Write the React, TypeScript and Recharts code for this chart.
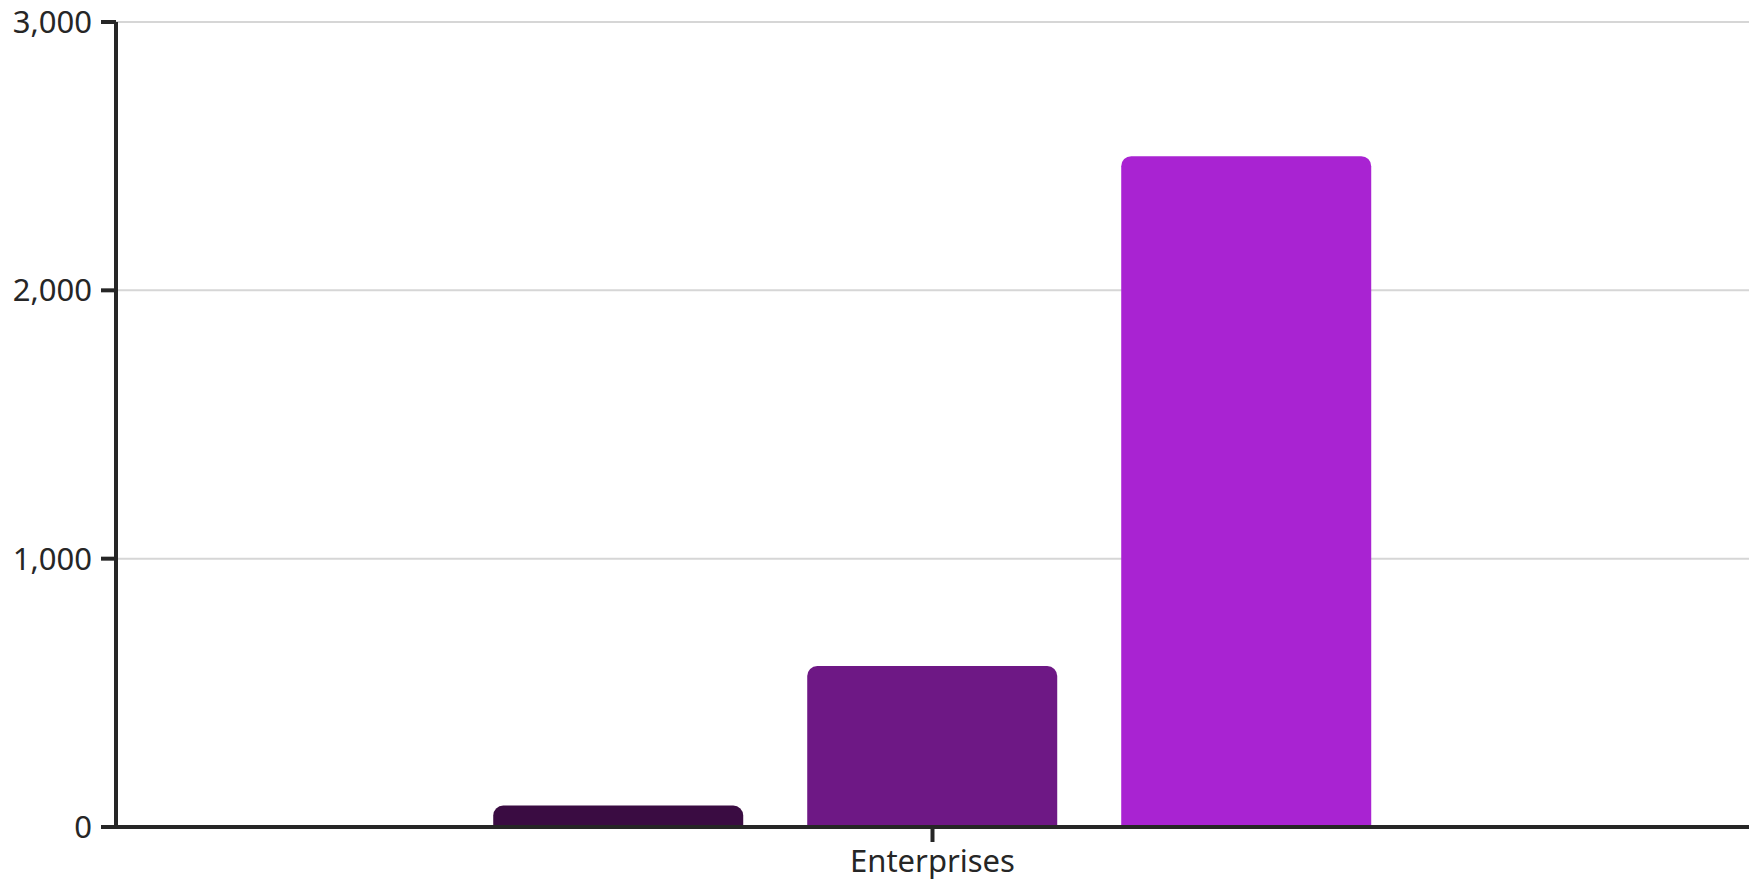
import React from 'react';
import { BarChart, Bar, XAxis, YAxis, CartesianGrid } from 'recharts';

const categories = ['Enterprises'];
const seriesNames = ['Series 1', 'Series 2', 'Series 3'];
const series1 = [80];
const series2 = [600];
const series3 = [2500];
const yTicks = [0, 1000, 2000, 3000];
const colors = ['#3a0c42', '#6e1885', '#a923d2'];

const data = categories.map((c, i) => ({
  name: c,
  [seriesNames[0]]: series1[i],
  [seriesNames[1]]: series2[i],
  [seriesNames[2]]: series3[i],
}));

const tickStyle = { fontSize: 31, fill: '#262626', fontFamily: '"Noto Sans", sans-serif' };

export default function App() {
  return (
    <div style={{ position: 'absolute', left: 0, top: 0, width: 1750, height: 882, background: '#fff' }}>
      <BarChart
        width={1750}
        height={882}
        data={data}
        margin={{ top: 22, right: 1, bottom: 0, left: 0 }}
        barCategoryGap="23.1%"
        barGap={64}
      >
        <CartesianGrid vertical={false} stroke="#d6d6d6" strokeWidth={2} />
        <XAxis
          dataKey="name"
          height={55}
          tickSize={15}
          tickMargin={8}
          axisLine={{ stroke: '#262626', strokeWidth: 4 }}
          tickLine={{ stroke: '#262626', strokeWidth: 4 }}
          tick={tickStyle}
        />
        <YAxis
          width={116}
          domain={[0, 3000]}
          ticks={yTicks}
          tickSize={15}
          tickMargin={9}
          interval={0}
          tickFormatter={(v: number) => v.toLocaleString('en-US')}
          axisLine={{ stroke: '#262626', strokeWidth: 4 }}
          tickLine={{ stroke: '#262626', strokeWidth: 4 }}
          tick={tickStyle}
        />
        {seriesNames.map((s, i) => (
          <Bar key={s} dataKey={s} fill={colors[i]} radius={[10, 10, 0, 0]} isAnimationActive={false} />
        ))}
      </BarChart>
    </div>
  );
}
